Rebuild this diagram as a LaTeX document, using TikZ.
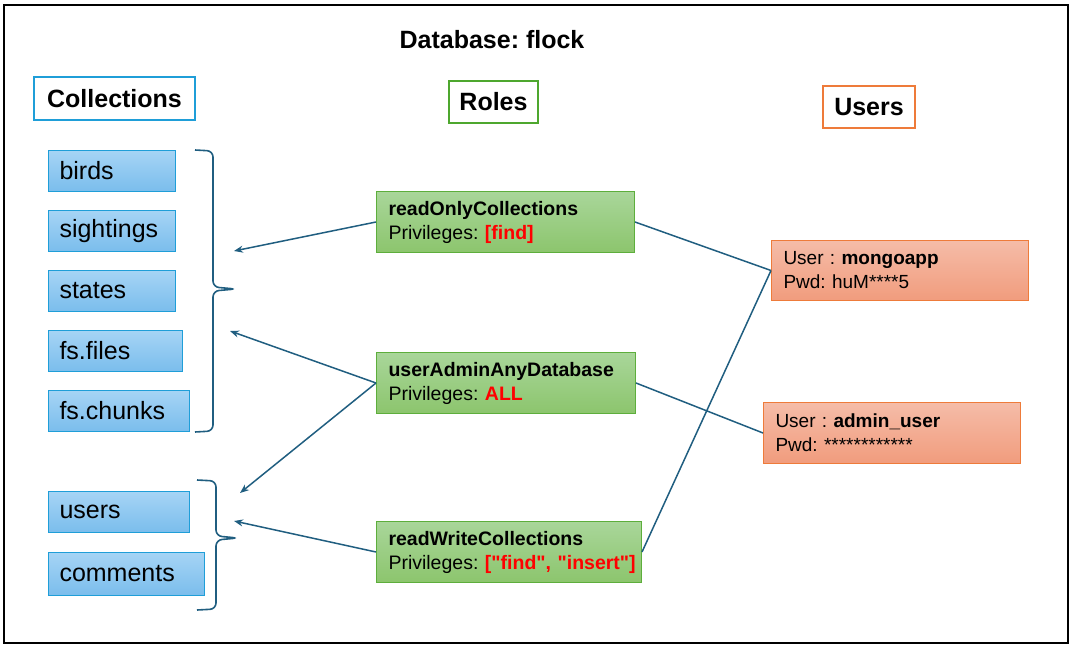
\documentclass[tikz,border=0pt]{standalone}
\usepackage{fontspec}
\setmainfont{Liberation Sans}
\usetikzlibrary{arrows.meta}
\frenchspacing
\definecolor{lnc}{HTML}{205E80}
\definecolor{collB}{HTML}{1F9ED8}
\definecolor{collT}{HTML}{A6D4F5}
\definecolor{collD}{HTML}{7ABDEC}
\definecolor{roleB}{HTML}{5DAE3C}
\definecolor{roleT}{HTML}{A9D69A}
\definecolor{roleD}{HTML}{8CC56D}
\definecolor{userB}{HTML}{EE7B3A}
\definecolor{userT}{HTML}{F5BCA8}
\definecolor{userD}{HTML}{F19C7D}
\definecolor{hdrB}{HTML}{4EA72E}
\definecolor{privred}{HTML}{FF0000}
\begin{document}
\begin{tikzpicture}[x=1pt,y=-1pt,
  hdr/.style={draw, line width=1.5pt, fill=white, inner sep=0pt,
    font=\fontsize{25}{28}\selectfont\bfseries},
  coll/.style={draw=collB, line width=1pt, top color=collT, bottom color=collD,
    anchor=north west, inner sep=0pt, minimum height=41pt, align=left,
    font=\fontsize{25}{28}\selectfont},
  role/.style={draw=roleB, line width=1pt, top color=roleT, bottom color=roleD,
    anchor=north west, inner sep=0pt, minimum height=61pt, align=left,
    font=\fontsize{19.5}{24}\selectfont},
  usr/.style={draw=userB, line width=1pt, top color=userT, bottom color=userD,
    anchor=north west, inner sep=0pt, minimum height=60pt, align=left,
    font=\fontsize{19}{24}\selectfont},
  conn/.style={draw=lnc, line width=1.5pt},
  arr/.style={conn, -{Stealth[length=9pt,width=7pt]}},
  brc/.style={draw=lnc, line width=1.6pt, rounded corners=6pt}
]
\useasboundingbox (0,0) rectangle (1076,647);
\draw[line width=1.5pt] (4,5) rectangle (1068,643);

\node[font=\fontsize{25}{28}\selectfont\bfseries] (title) at (492,40) {Database: flock};

\node[hdr, draw=collB, minimum width=161pt, minimum height=43pt] (hcoll) at (114.5,98.5) {Collections};
\node[hdr, draw=hdrB, minimum width=89pt, minimum height=42pt] (hrole) at (493.5,102) {Roles};
\node[hdr, draw=userB, minimum width=92pt, minimum height=42pt] (huser) at (869,107) {Users};

\node[coll, minimum width=127pt, text width=105pt] (birds) at (48,150) {birds};
\node[coll, minimum width=127pt, text width=105pt] (sight) at (48,210) {sightings};
\node[coll, minimum width=127pt, text width=105pt] (states) at (48,270) {states};
\node[coll, minimum width=134pt, text width=112pt] (fsfiles) at (48,330) {fs.files};
\node[coll, minimum width=141pt, text width=119pt] (fschunks) at (48,390) {fs.chunks};
\node[coll, minimum width=141pt, text width=119pt] (users) at (48,491) {users};
\node[coll, minimum width=156pt, text width=134pt, minimum height=43pt] (comments) at (48,552) {comments};

\node[role, minimum width=258pt, text width=234pt] (ro) at (376,191)
  {\textbf{readOnlyCollections}\\Privileges: \textcolor{privred}{\textbf{[find]}}};
\node[role, minimum width=259pt, text width=235pt] (ua) at (376,352)
  {\textbf{userAdminAnyDatabase}\\Privileges: \textcolor{privred}{\textbf{ALL}}};
\node[role, minimum width=265pt, text width=241pt] (rw) at (376,521)
  {\textbf{readWriteCollections}\\\mbox{Privileges: \textcolor{privred}{\textbf{[\textquotedbl find\textquotedbl, \textquotedbl insert\textquotedbl]}}}};

\node[usr, minimum width=257pt, text width=233pt] (mongo) at (771,240)
  {User : \textbf{mongoapp}\\Pwd: huM****5};
\node[usr, minimum width=257pt, text width=233pt, minimum height=61pt] (admin) at (763,402)
  {User : \textbf{admin\_user}\\Pwd: ************};

\draw[brc] (195,150) -- (213,151) -- (213,287) -- (236,289) -- (213,291) -- (213,431) -- (195,432);
\draw[brc] (197,480) -- (216,481) -- (216,536) -- (238,538) -- (216,540) -- (216,609) -- (197,610);

\coordinate (a1) at (234,251);
\coordinate (a2) at (230,331);
\coordinate (a3) at (240,493);
\coordinate (a4) at (234,521);

\draw[arr] (ro.west) -- (a1);
\draw[arr] (ua.west) -- (a2);
\draw[arr] (ua.west) -- (a3);
\draw[arr] (rw.west) -- (a4);

\draw[conn] (ro.east) -- (mongo.west);
\draw[conn] (rw.east) -- (mongo.west);
\draw[conn] (ua.east) -- (admin.west);
\end{tikzpicture}
\end{document}
